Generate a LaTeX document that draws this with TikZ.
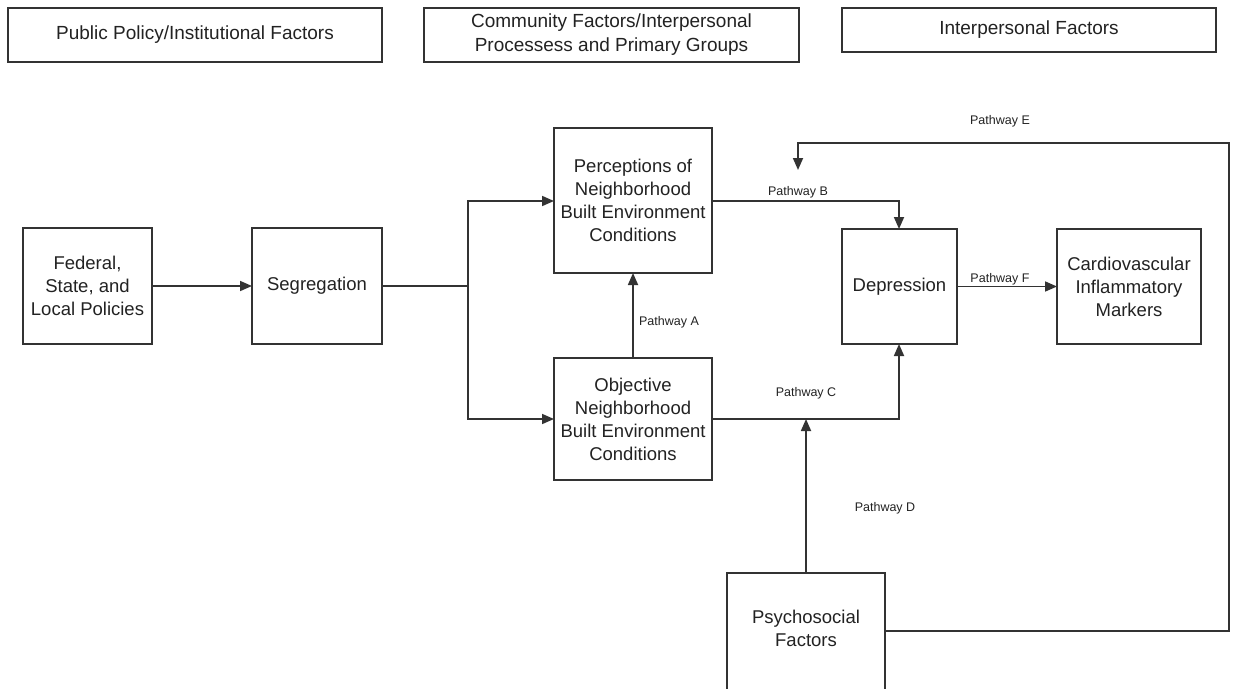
\documentclass[tikz,border=0pt]{standalone}
\usepackage{fontspec}
\setmainfont{Liberation Sans}
\usetikzlibrary{arrows.meta}
\definecolor{ln}{HTML}{333333}
\definecolor{tx}{HTML}{222222}
\begin{document}
\begin{tikzpicture}[x=1pt,y=-1pt,
  box/.style={draw=ln,line width=1.7pt,inner sep=0pt,outer sep=0pt,align=center,text=tx,
    font=\fontsize{18.5}{23}\selectfont},
  hbox/.style={box,font=\fontsize{19}{24}\selectfont},
  lbl/.style={text=tx,font=\fontsize{12.5}{15}\selectfont,inner sep=0pt},
  con/.style={draw=ln,line width=1.7pt},
  arr/.style={con,-{Triangle[length=12pt,width=10pt]}}]
\useasboundingbox (0,0) rectangle (1233,688);
% header boxes
\node[hbox,minimum width=374,minimum height=54] (h1) at (195,35) {Public Policy/Institutional Factors};
\node[hbox,minimum width=375,minimum height=54] (h2) at (611.5,35) {Community Factors/Interpersonal\\Processess and Primary Groups};
\node[hbox,minimum width=374,minimum height=44] (h3) at (1029,30) {Interpersonal Factors};
% main boxes
\node[box,minimum width=129,minimum height=116] (fed) at (87.5,286) {Federal,\\State, and\\Local Policies};
\node[box,minimum width=130,minimum height=116] (seg) at (317,286) {Segregation};
\node[box,minimum width=158,minimum height=145] (perc) at (633,200.5) {Perceptions of\\Neighborhood\\Built Environment\\Conditions};
\node[box,minimum width=158,minimum height=122] (obj) at (633,419) {Objective\\Neighborhood\\Built Environment\\Conditions};
\node[box,minimum width=115,minimum height=115] (dep) at (899.5,286.5) {Depression};
\node[box,minimum width=144,minimum height=115] (card) at (1129,286.5) {Cardiovascular\\Inflammatory\\Markers};
\node[box,draw=none,minimum width=158,minimum height=110] (psy) at (806,628) {Psychosocial\\Factors};
\draw[con] (psy.south west) ++(0,15) -- (psy.north west) -- (psy.north east) -- ++(0,125);
% helper coordinates
\coordinate (split) at (468,286);
\coordinate (cjoin) at (806,419);
\coordinate (eend) at (798,170);
% connectors
\draw[arr] (fed.east) -- (seg.west);
\draw[con] (seg.east) -- (split);
\draw[arr] (split) |- (perc.west |- 0,201);
\draw[arr] (split) |- (obj.west);
\draw[arr] (obj.north) -- (perc.south);
\draw[arr] (perc.east |- 0,201) -- (899,201) -- (dep.north -| 899,0);
\draw[arr] (obj.east) -- (899,419) -- (dep.south -| 899,0);
\draw[arr] (psy.north) -- (cjoin);
\draw[arr] (psy.east |- 0,631) -- (1229,631) -- (1229,143) -- (798,143) -- (eend);
\draw[arr] (dep.east) -- (card.west);
% labels
\node[lbl] (la) at (669,322) {Pathway A};
\node[lbl] (lb) at (798,192) {Pathway B};
\node[lbl] (lc) at (806,393) {Pathway C};
\node[lbl] (ld) at (885,508) {Pathway D};
\node[lbl] (le) at (1000,121) {Pathway E};
\node[lbl] (lf) at (1000,279) {Pathway F};
\end{tikzpicture}
\end{document}
